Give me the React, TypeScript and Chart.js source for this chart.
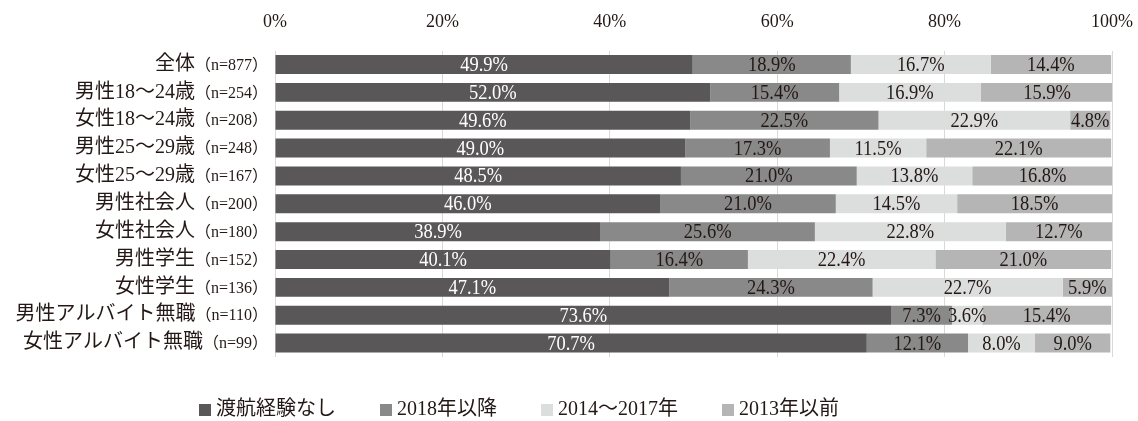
import React, { useEffect, useRef } from "react";
import { Chart, registerables } from "chart.js";

Chart.register(...registerables);

const categories = [
  "全体",
  "男性18～24歳",
  "女性18～24歳",
  "男性25～29歳",
  "女性25～29歳",
  "男性社会人",
  "女性社会人",
  "男性学生",
  "女性学生",
  "男性アルバイト無職",
  "女性アルバイト無職",
];
const sampleSizes = ["877", "254", "208", "248", "167", "200", "180", "152", "136", "110", "99"];

const seriesNames = ["渡航経験なし", "2018年以降", "2014～2017年", "2013年以前"];
const noTravel = [49.9, 52.0, 49.6, 49.0, 48.5, 46.0, 38.9, 40.1, 47.1, 73.6, 70.7];
const since2018 = [18.9, 15.4, 22.5, 17.3, 21.0, 21.0, 25.6, 16.4, 24.3, 7.3, 12.1];
const from2014to2017 = [16.7, 16.9, 22.9, 11.5, 13.8, 14.5, 22.8, 22.4, 22.7, 3.6, 8.0];
const before2013 = [14.4, 15.9, 4.8, 22.1, 16.8, 18.5, 12.7, 21.0, 5.9, 15.4, 9.0];

const xTickMin = 0;
const xTickMax = 100;
const xTickStep = 20;

const seriesColors = ["#595757", "#898989", "#dcdddd", "#b5b5b6"];
const labelColors = ["#ffffff", "#231815", "#231815", "#231815"];
const TEXT = "#231815";
const FAMILY = '"Liberation Serif", "Noto Sans CJK JP", serif';

const dataLabelPlugin = {
  id: "dataLabels",
  afterDatasetsDraw(chart: any) {
    const ctx = chart.ctx;
    ctx.save();
    ctx.font = `21px ${FAMILY}`;
    ctx.textAlign = "center";
    ctx.textBaseline = "middle";
    chart.data.datasets.forEach((ds: any, di: number) => {
      const meta = chart.getDatasetMeta(di);
      meta.data.forEach((el: any, i: number) => {
        const v = ds.data[i];
        const p = el.getProps(["x", "y", "base"], true);
        const cx = (p.x + p.base) / 2;
        ctx.save();
        ctx.fillStyle = labelColors[di];
        ctx.translate(cx, p.y + 1);
        ctx.scale(0.88, 1);
        ctx.fillText(v.toFixed(1) + "%", 0, 0);
        ctx.restore();
      });
    });
    ctx.restore();
  },
};

const yLabelPlugin = {
  id: "yLabels",
  afterDraw(chart: any) {
    const ctx = chart.ctx;
    const yScale = chart.scales.y;
    const right = chart.chartArea.left - 7;
    ctx.save();
    ctx.textBaseline = "middle";
    ctx.textAlign = "right";
    ctx.fillStyle = TEXT;
    categories.forEach((cat, i) => {
      const y = yScale.getPixelForValue(i);
      const nText = `（n=${sampleSizes[i]}）`;
      ctx.font = `16px ${FAMILY}`;
      const nw = ctx.measureText(nText).width;
      ctx.fillText(nText, right, y + 1);
      ctx.font = `20px ${FAMILY}`;
      ctx.fillText(cat, right - nw, y);
    });
    ctx.restore();
  },
};

const legendPlugin = {
  id: "customLegend",
  afterDraw(chart: any) {
    const ctx = chart.ctx;
    ctx.save();
    ctx.font = `20px ${FAMILY}`;
    ctx.textBaseline = "middle";
    ctx.textAlign = "left";
    const cy = 410;
    const box = 12;
    const gap = 5;
    const spacing = 44;
    let x = 199;
    chart.data.datasets.forEach((ds: any, di: number) => {
      ctx.fillStyle = seriesColors[di];
      ctx.fillRect(x, cy - box / 2, box, box);
      ctx.fillStyle = TEXT;
      const tx = x + box + gap;
      ctx.fillText(ds.label, tx, cy);
      const w = ctx.measureText(ds.label).width;
      x = tx + w + spacing;
    });
    ctx.restore();
  },
};

export default function App() {
  const canvasRef = useRef<HTMLCanvasElement | null>(null);

  useEffect(() => {
    if (!canvasRef.current) return;
    const seriesData = [noTravel, since2018, from2014to2017, before2013];
    const chart = new Chart(canvasRef.current, {
      type: "bar",
      data: {
        labels: categories,
        datasets: seriesNames.map((name, i) => ({
          label: name,
          data: seriesData[i],
          backgroundColor: seriesColors[i],
          borderWidth: 0,
          barPercentage: 0.68,
          categoryPercentage: 1,
        })),
      },
      options: {
        indexAxis: "y",
        responsive: false,
        devicePixelRatio: 1,
        animation: false,
        layout: { padding: { left: 275, right: 26, top: -7, bottom: 64 } },
        plugins: {
          legend: { display: false },
          tooltip: { enabled: false },
        },
        scales: {
          x: {
            position: "top",
            stacked: true,
            min: xTickMin,
            max: xTickMax,
            afterFit: (s: any) => {
              s.paddingRight = 0;
              s.paddingLeft = 0;
            },
            ticks: {
              stepSize: xTickStep,
              padding: 18,
              color: TEXT,
              font: { family: FAMILY, size: 18 },
              callback: (v: any) => v + "%",
            },
            grid: { color: "#d9d9d9", lineWidth: 1, drawTicks: false },
            border: { display: false },
          },
          y: {
            stacked: true,
            ticks: { display: false },
            grid: { display: false, drawTicks: false },
            border: { display: false },
          },
        },
      },
      plugins: [dataLabelPlugin, yLabelPlugin, legendPlugin],
    } as any);
    return () => chart.destroy();
  }, []);

  return (
    <div style={{ position: "absolute", left: 0, top: 0, width: 1138, height: 421, background: "#ffffff" }}>
      <canvas ref={canvasRef} width={1138} height={421} />
    </div>
  );
}
